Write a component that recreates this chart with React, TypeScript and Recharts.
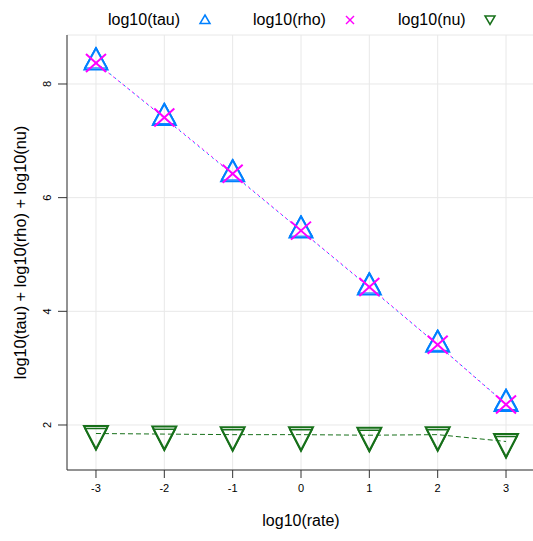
import React from 'react';
import { ComposedChart, Line, XAxis, YAxis, CartesianGrid, Legend } from 'recharts';

const FONT = '"Liberation Sans", Arial, Helvetica, sans-serif';

const logRate = [-3, -2, -1, 0, 1, 2, 3];
const logTau = [8.38, 7.40, 6.41, 5.42, 4.42, 3.41, 2.37];
const logRho = [8.37, 7.41, 6.42, 5.42, 4.43, 3.41, 2.36];
const logNu = [1.85, 1.84, 1.83, 1.83, 1.82, 1.83, 1.71];
const rateTicks = [-3, -2, -1, 0, 1, 2, 3];
const valueTicks = [2, 4, 6, 8];
const seriesNames = ['log10(tau)', 'log10(rho)', 'log10(nu)'];
const xTitle = 'log10(rate)';
const yTitle = 'log10(tau) + log10(rho) + log10(nu)';

const COL_TAU = '#0080ff';
const COL_RHO = '#ff00ff';
const COL_NU = '#17701a';

const data = logRate.map((x, i) => ({ x, tau: logTau[i], rho: logRho[i], nu: logNu[i] }));

const triUpPath = (cx: number, cy: number, w: number, up: number, dn: number, o: number) =>
  `M${cx},${cy - up + o} L${cx + w},${cy + dn + o} L${cx - w},${cy + dn + o} Z`;
const triDownPath = (cx: number, cy: number, w: number, up: number, dn: number, o: number) =>
  `M${cx - w},${cy - up + o} L${cx + w},${cy - up + o} L${cx},${cy + dn + o} Z`;

const TauDot = (p: any) => {
  if (p.cx == null || p.cy == null) return <g key={`tau${p.index}`} />;
  return (
    <g key={`tau${p.index}`} fill="none" stroke={COL_TAU} strokeLinejoin="miter">
      <path d={triUpPath(p.cx, p.cy, 11.5, 14, 7, 0)} strokeWidth={2} />
      <path d={triUpPath(p.cx, p.cy, 11.5, 14, 7, -1.5)} strokeWidth={1} />
    </g>
  );
};

const RhoDot = (p: any) => {
  if (p.cx == null || p.cy == null) return <g key={`rho${p.index}`} />;
  const { cx, cy } = p;
  return (
    <g key={`rho${p.index}`} stroke={COL_RHO} strokeWidth={2}>
      <line x1={cx - 10} y1={cy - 9} x2={cx + 10} y2={cy + 9} />
      <line x1={cx - 10} y1={cy + 9} x2={cx + 10} y2={cy - 9} />
    </g>
  );
};

const NuDot = (p: any) => {
  if (p.cx == null || p.cy == null) return <g key={`nu${p.index}`} />;
  return (
    <g key={`nu${p.index}`} fill="none" stroke={COL_NU}>
      <path d={triDownPath(p.cx, p.cy, 12, 7.5, 15.5, 0)} strokeWidth={2} />
      <path d={triDownPath(p.cx, p.cy, 11, 7.5, 14, 2.6)} strokeWidth={1.5} />
    </g>
  );
};

const YTick = (p: any) => {
  const { x, y, payload } = p;
  return (
    <text
      x={x - 9}
      y={y}
      transform={`rotate(-90 ${x - 9} ${y})`}
      textAnchor="middle"
      dominantBaseline="central"
      fontSize={11}
      fontFamily={FONT}
      fill="#000"
    >
      {payload.value}
    </text>
  );
};

const XTick = (p: any) => {
  const { x, y, payload } = p;
  return (
    <text x={x} y={y + 12} textAnchor="middle" fontSize={11} fontFamily={FONT} fill="#000">
      {payload.value}
    </text>
  );
};

const XLabel = (p: any) => {
  const vb = p.viewBox || {};
  const cx = vb.x + vb.width / 2;
  return (
    <text x={cx} y={vb.y + 56} textAnchor="middle" fontSize={16} fontFamily={FONT} fill="#000">
      {xTitle}
    </text>
  );
};

const YLabel = (p: any) => {
  const vb = p.viewBox || {};
  const cy = vb.y + vb.height / 2;
  const cx = 20;
  return (
    <text
      x={cx}
      y={cy}
      transform={`rotate(-90 ${cx} ${cy})`}
      textAnchor="middle"
      dominantBaseline="central"
      fontSize={16.3}
      fontFamily={FONT}
      fill="#000"
    >
      {yTitle}
    </text>
  );
};

const LegendContent = () => (
  <svg width={533} height={35} style={{ display: 'block' }}>
    <g fontSize={16} fontFamily={FONT} fill="#000">
      <text x={108} y={25}>{seriesNames[0]}</text>
      <text x={253} y={25}>{seriesNames[1]}</text>
      <text x={398} y={25}>{seriesNames[2]}</text>
    </g>
    <path d="M205,15 L210,23.5 L200,23.5 Z" fill="none" stroke={COL_TAU} strokeWidth={1.5} />
    <g stroke={COL_RHO} strokeWidth={1.5}>
      <line x1={346} y1={16} x2={354} y2={24} />
      <line x1={346} y1={24} x2={354} y2={16} />
    </g>
    <path d="M485,16 L495,16 L490,24.5 Z" fill="none" stroke={COL_NU} strokeWidth={1.5} />
  </svg>
);

export default function App() {
  return (
    <div
      style={{
        position: 'absolute',
        left: 0,
        top: 0,
        width: 533,
        height: 541,
        overflow: 'hidden',
        background: '#fff',
      }}
    >
      <ComposedChart width={535} height={541} data={data} margin={{ top: 35, right: 0, bottom: 0, left: 0 }}>
        <CartesianGrid stroke="#e8e8e8" strokeWidth={1} />
        <XAxis
          type="number"
          dataKey="x"
          domain={[-3.424, 3.424]}
          ticks={rateTicks}
          interval={0}
          allowDataOverflow
          height={71}
          tickSize={8}
          tick={<XTick />}
          stroke="#333"
          axisLine={{ stroke: '#333' }}
          tickLine={{ stroke: '#333' }}
          label={<XLabel />}
        />
        <XAxis
          xAxisId="top"
          orientation="top"
          type="number"
          domain={[-3.424, 3.424]}
          height={0}
          tick={false}
          tickLine={false}
          axisLine={{ stroke: '#333' }}
        />
        <YAxis
          type="number"
          domain={[1.208, 8.862]}
          ticks={valueTicks}
          interval={0}
          allowDataOverflow
          width={67}
          tickSize={9}
          tick={<YTick />}
          stroke="#333"
          axisLine={{ stroke: '#333' }}
          tickLine={{ stroke: '#333' }}
          label={<YLabel />}
        />
        <Legend
          layout="vertical"
          align="center"
          verticalAlign="middle"
          wrapperStyle={{ position: 'absolute', top: 0, left: 0, width: 533, height: 35 }}
          content={<LegendContent />}
        />
        <Line
          type="linear"
          dataKey="tau"
          stroke={COL_TAU}
          strokeWidth={1}
          strokeDasharray="2 4"
          dot={TauDot}
          activeDot={false}
          isAnimationActive={false}
        />
        <Line
          type="linear"
          dataKey="rho"
          stroke={COL_RHO}
          strokeWidth={1}
          strokeDasharray="2 4"
          strokeDashoffset={2}
          dot={RhoDot}
          activeDot={false}
          isAnimationActive={false}
        />
        <Line
          type="linear"
          dataKey="nu"
          stroke={COL_NU}
          strokeWidth={1}
          strokeDasharray="5 3"
          dot={NuDot}
          activeDot={false}
          isAnimationActive={false}
        />
      </ComposedChart>
    </div>
  );
}
